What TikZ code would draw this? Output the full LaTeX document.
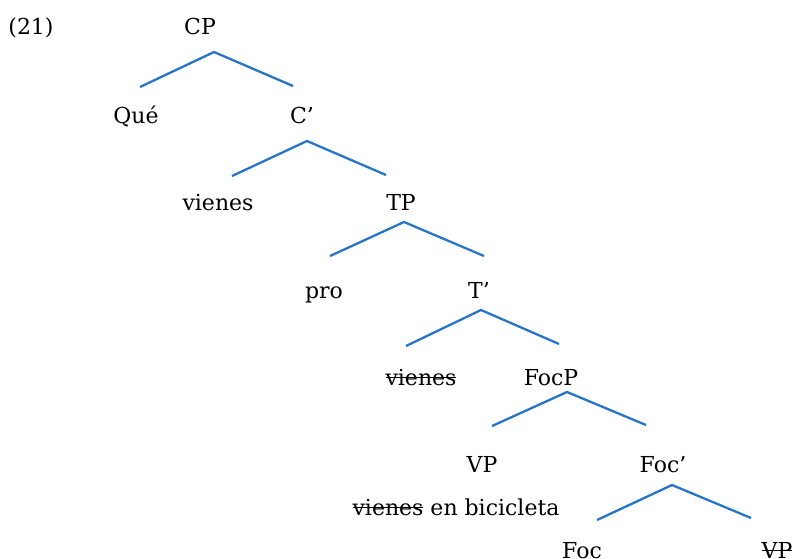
\documentclass[tikz,border=0pt]{standalone}
\usepackage{fontspec}
\setmainfont{DejaVu Serif}
\newcommand\strk[1]{\setbox0\hbox{#1}\rlap{\rule[0.3em]{\wd0}{0.07em}}\box0\relax}
\definecolor{treeblue}{RGB}{38,117,200}
\tikzset{
  lbl/.style={anchor=base,inner sep=0pt,font=\fontsize{22}{26}\selectfont},
  branch/.style={draw=treeblue,line width=2.3pt}
}
\begin{document}
\begin{tikzpicture}[x=1pt,y=-1pt]
\useasboundingbox (0,0) rectangle (800,558);
\node[lbl] (ex) at (31,34) {(21)};
\node[lbl] (cp) at (200,34) {CP};
\node[lbl] (que) at (136,123) {Qué};
\node[lbl] (cbar) at (302,123) {C’};
\node[lbl] (v1) at (218,210) {vienes};
\node[lbl] (tp) at (401,210) {TP};
\node[lbl] (pro) at (324,298) {pro};
\node[lbl] (tbar) at (479,298) {T’};
\node[lbl] (v2) at (421,385) {\strk{vienes}};
\node[lbl] (focp) at (551,385) {FocP};
\node[lbl] (vp) at (482,472) {VP};
\node[lbl] (focbar) at (663,472) {Foc’};
\node[lbl] (vpcont) at (456,515) {\strk{vienes} en bicicleta};
\node[lbl] (foc) at (582,558) {Foc};
\node[lbl] (vp2) at (777,558) {\strk{VP}};
% apexes and ends
\coordinate (a1) at (214,52); \coordinate (l1) at (140,87); \coordinate (r1) at (293,86);
\coordinate (a2) at (307,141); \coordinate (l2) at (232,176); \coordinate (r2) at (386,175);
\coordinate (a3) at (404,222); \coordinate (l3) at (330,256); \coordinate (r3) at (484,256);
\coordinate (a4) at (481,310); \coordinate (l4) at (406,346); \coordinate (r4) at (559,344);
\coordinate (a5) at (567,392); \coordinate (l5) at (492,426); \coordinate (r5) at (646,425);
\coordinate (a6) at (672,485); \coordinate (l6) at (597,520); \coordinate (r6) at (751,518);
\foreach \i in {1,...,6}{
  \draw[branch] (l\i) -- (a\i) -- (r\i);
}
\end{tikzpicture}
\end{document}
